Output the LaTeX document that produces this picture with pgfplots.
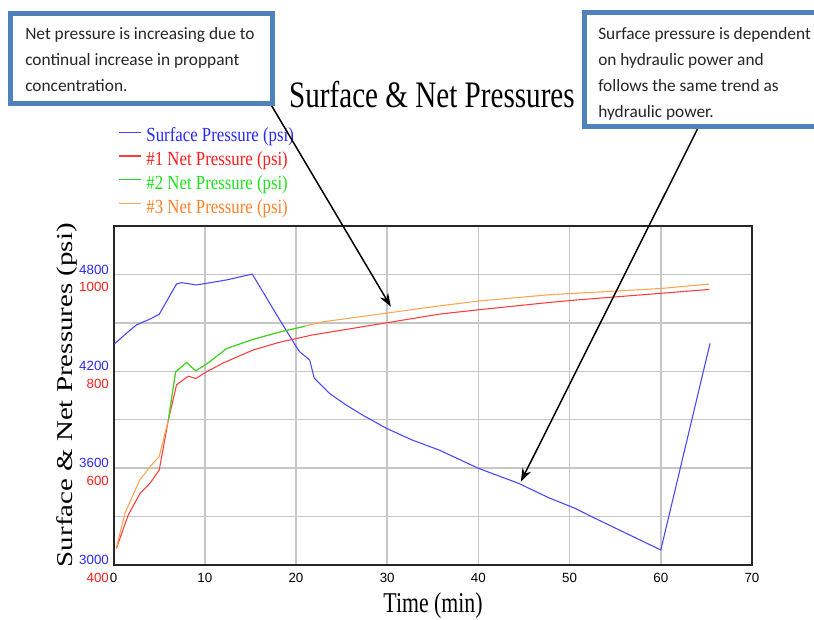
\documentclass[border=0pt]{standalone}
\usepackage{graphicx}
\usepackage{pgfplots}
\pgfplotsset{compat=1.18}
\usepackage{fontspec}
\setmainfont{Liberation Serif}
\newfontfamily\ticksf{Liberation Sans}
\newfontfamily\calibri{Carlito}
\usetikzlibrary{arrows.meta}
\definecolor{sblue}{RGB}{70,70,255}
\definecolor{nred}{RGB}{255,60,60}
\definecolor{ngreen}{RGB}{40,220,40}
\definecolor{norange}{RGB}{255,165,80}
\definecolor{tblue}{RGB}{40,40,255}
\definecolor{tred}{RGB}{255,30,30}
\definecolor{tgreen}{RGB}{30,225,30}
\definecolor{torange}{RGB}{255,130,40}
\definecolor{boxblue}{RGB}{79,129,189}
\definecolor{gridgray}{RGB}{198,198,198}

\pgfplotstableread{
t S
0.1 4370
1.4 4435
2.5 4487
4.0 4524
5.0 4553
6.9 4741
7.45 4749
9.1 4735
10.2 4745
12.4 4766
15.2 4802
18.2 4520
19.8 4373
20.4 4321
21.5 4270
22.0 4157
23.65 4064
25.5 3991
27.3 3929
29.9 3847
32.75 3774
35.7 3712
40.0 3599
44.4 3506
47.7 3417
50.6 3351
52.8 3289
60.0 3093
65.4 4373
}\surface

\pgfplotstableread{
t N
0.3 434
1.6 503
2.9 548
4.0 569
5.0 596
6.0 699
6.9 772
8.2 790
9.0 785
10.2 799
12.0 817
15.3 844
18.2 860
21.8 875
29.9 900
35.7 918
40.0 927
47.7 942
50.6 947
60.0 961
65.3 969
}\netone

\pgfplotstableread{
t N
6.0 699
6.8 799
8.0 818
9.0 801
10.2 815
12.4 847
15.3 866
18.2 881
21.0 893
}\nettwo

\pgfplotstableread{
t N
0.3 435
1.25 507
2.85 575
4.0 603
5.0 624
6.0 699
6.8 799
8.0 818
9.0 801
10.2 815
12.4 847
15.3 866
18.2 881
22.9 902
29.9 920
35.7 935
40.0 945
47.7 958
50.6 961
60.0 971
65.3 980
}\netthree

\begin{document}
\begin{tikzpicture}
\useasboundingbox (0,0) rectangle (610.5pt,464.25pt);
\begin{axis}[
  at={(85.2pt,40.5pt)}, anchor=south west,
  width=478.8pt, height=254.25pt, scale only axis,
  xmin=0, xmax=70, ymin=3000, ymax=5100,
  xtick={0,10,...,70},
  ytick={3000,3600,4200,4800},
  minor ytick={3300,3900,4500},
  grid=both,
  major grid style={gridgray, line width=1.1pt},
  minor grid style={gridgray, line width=1.1pt},
  major tick length=0pt, minor tick length=0pt,
  axis line style={black!85, line width=1.4pt},
  /pgf/number format/assume math mode=true,
  /pgf/number format/1000 sep={},
  ticklabel style={font=\fontsize{10}{12}\selectfont\ticksf},
  yticklabel style={text=tblue, yshift=3.75pt},
  xticklabel style={yshift=-2.5pt},
  title={\scalebox{0.78}[1]{Surface \& Net Pressures}},
  title style={at={(axis description cs:0.4987,1.327)}, anchor=base, font=\fontsize{28}{32}\selectfont},
  xlabel={\scalebox{0.76}[1]{Time (min)}},
  xlabel style={at={(axis description cs:0.5003,-0.141)}, anchor=base, font=\fontsize{21.5}{24}\selectfont},
  ylabel={\scalebox{1}[0.78]{Surface \& Net Pressures (psi)}},
  ylabel style={at={(axis description cs:-0.065,0.501)}, anchor=base, rotate=0, font=\fontsize{21.7}{24}\selectfont},
  legend style={at={(axis description cs:0.0069,1.292)}, anchor=north west, draw=none, fill=none,
    inner sep=0pt, row sep=3.3pt, column sep=3.75pt,
    nodes={inner sep=0pt, text height=11pt, text depth=3.5pt},
    font=\fontsize{15}{18}\selectfont},
  legend cell align=left,
  legend image code/.code={\draw[#1] (0pt,3.5pt) -- (16.5pt,3.5pt);},
]
\addplot[sblue, line width=0.8pt] table[x=t, y=S] {\surface};
\addlegendentry{\textcolor{tblue}{\scalebox{0.84}[1]{Surface Pressure (psi)}}}
\addlegendimage{nred, line width=0.9pt}
\addlegendentry{\textcolor{tred}{\scalebox{0.84}[1]{\#1 Net Pressure (psi)}}}
\addlegendimage{ngreen, line width=0.9pt}
\addlegendentry{\textcolor{tgreen}{\scalebox{0.84}[1]{\#2 Net Pressure (psi)}}}
\addlegendimage{norange, line width=0.9pt}
\addlegendentry{\textcolor{torange}{\scalebox{0.84}[1]{\#3 Net Pressure (psi)}}}
\coordinate (tipA) at (axis cs:30.4,4600);
\coordinate (tipB) at (axis cs:44.65,3516);
\end{axis}
\begin{axis}[
  at={(85.2pt,40.5pt)}, anchor=south west,
  width=478.8pt, height=254.25pt, scale only axis,
  xmin=0, xmax=70, ymin=400, ymax=1100,
  xtick=\empty,
  ytick={400,600,800,1000},
  major tick length=0pt,
  axis line style={draw=none},
  /pgf/number format/assume math mode=true,
  /pgf/number format/1000 sep={},
  ticklabel style={font=\fontsize{10}{12}\selectfont\ticksf},
  yticklabel style={text=tred, yshift=-9.4pt},
]
\addplot[nred, line width=0.8pt] table[x=t, y=N] {\netone};
\addplot[norange, line width=0.8pt] table[x=t, y=N] {\netthree};
\addplot[ngreen, line width=0.8pt] table[x=t, y=N] {\nettwo};
\end{axis}
\begin{scope}[x=0.75pt, y=-0.75pt, yshift=464.25pt]
  \draw[black, line width=1.1pt, -{Stealth[length=10pt, width=7pt]}] (270,103) -- (tipA);
  \draw[black, line width=1.1pt, -{Stealth[length=10pt, width=7pt]}] (698,128) -- (tipB);
  \draw[boxblue, line width=3.75pt, fill=white] (10.5,13.5) rectangle (272,104);
  \draw[boxblue, line width=3.75pt, fill=white] (584,12.5) rectangle (840,126.5);
  \begin{scope}[every node/.style={anchor=base west, inner sep=0pt, font=\fontsize{13}{15}\calibri, text=black!85}]
    \node at (25,40) {Net pressure is increasing due to};
    \node at (25,66) {continual increase in proppant};
    \node at (25,92) {concentration.};
    \node at (598,39.5) {Surface pressure is dependent};
    \node at (598,65.5) {on hydraulic power and};
    \node at (598,91.5) {follows the same trend as};
    \node at (598,117.5) {hydraulic power.};
  \end{scope}
\end{scope}
\end{tikzpicture}
\end{document}
